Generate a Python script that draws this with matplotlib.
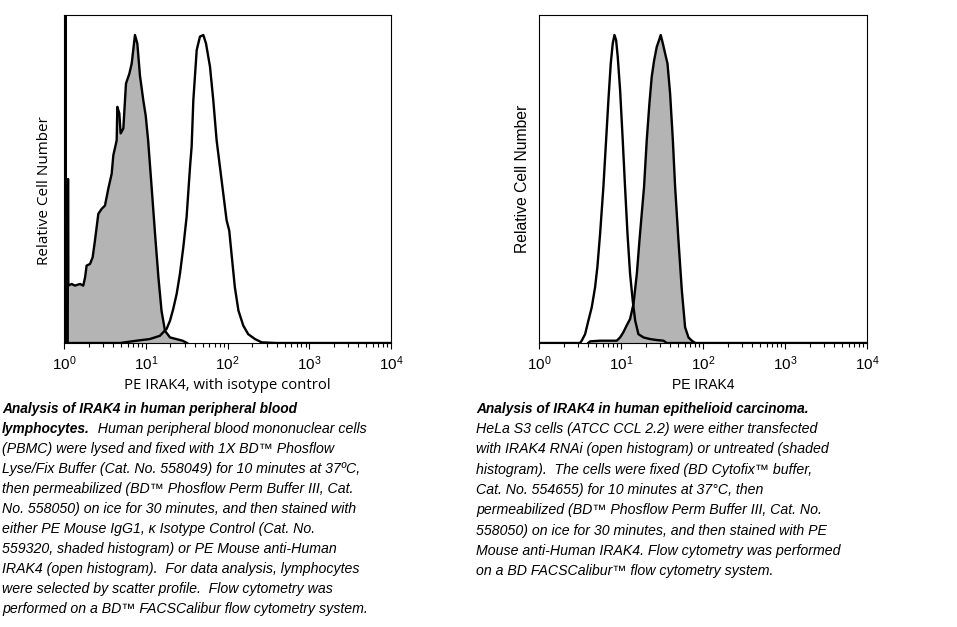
import matplotlib
matplotlib.use("Agg")
import matplotlib.pyplot as plt
import numpy as np

plt.rcParams['font.family'] = ['Liberation Sans', 'DejaVu Sans']
plt.rcParams['mathtext.fontset'] = 'custom'
plt.rcParams['mathtext.rm'] = 'Liberation Sans'
plt.rcParams['mathtext.it'] = 'Liberation Sans:italic'

# Left panel: PBMC, isotype control (shaded) vs anti-IRAK4 (open)
iso_x = [1.11, 1.12, 1.13, 1.24, 1.36, 1.57, 1.72, 1.81, 1.89, 2.08, 2.24, 2.39, 2.63,
         2.89, 3.17, 3.48, 3.83, 4.01, 4.41, 4.49, 4.75, 4.93, 5.32, 5.73, 6.30, 6.73,
         7.38, 7.89, 8.49, 9.33, 9.98, 10.7, 11.8, 13.0, 14.3, 15.6, 17.2, 19.8, 28.2, 32.0]
iso_y = [0.0, 0.50, 0.175, 0.180, 0.175, 0.180, 0.175, 0.200, 0.236, 0.241, 0.261, 0.312, 0.394,
         0.409, 0.419, 0.470, 0.516, 0.572, 0.618, 0.720, 0.700, 0.639, 0.654, 0.791, 0.821, 0.852,
         0.939, 0.913, 0.816, 0.740, 0.694, 0.617, 0.475, 0.332, 0.199, 0.098, 0.037, 0.017, 0.007, 0.0]

irak_x = [1.04, 1.045, 1.05, 4.84, 7.74, 11.2, 14.9, 16.4, 18.0, 19.8, 21.7, 23.9, 26.2, 28.8,
          31.6, 34.8, 36.4, 38.2, 42.0, 46.0, 50.6, 54.6, 61.1, 67.0, 73.6, 84.7, 97.5, 105,
          112, 123, 136, 156, 179, 217, 262, 398, 10000]
irak_y = [0.0, 1.5, 0.0, 0.0, 0.007, 0.012, 0.022, 0.033, 0.043, 0.068, 0.104, 0.150, 0.211, 0.292,
          0.384, 0.537, 0.598, 0.740, 0.893, 0.934, 0.939, 0.913, 0.842, 0.740, 0.618, 0.496, 0.374, 0.343,
          0.272, 0.170, 0.099, 0.053, 0.027, 0.012, 0.002, 0.0, 0.0]

# Right panel: HeLa S3, untreated (shaded) vs IRAK4 RNAi (open)
untr_x = [3.98, 4.20, 5.56, 8.87, 9.75, 10.7, 11.7, 12.9, 14.2, 15.6, 16.8, 17.9, 19.1, 20.6,
          22.2, 23.7, 25.4, 27.3, 29.2, 30.5, 32.4, 34.5, 36.9, 39.7, 42.9, 45.7, 50.2, 55.2,
          60.5, 66.5, 73.1, 80.2]
untr_y = [0.0, 0.005, 0.007, 0.007, 0.017, 0.033, 0.053, 0.073, 0.119, 0.211, 0.313, 0.394, 0.476, 0.618,
          0.730, 0.812, 0.863, 0.903, 0.924, 0.939, 0.913, 0.883, 0.852, 0.761, 0.618, 0.476, 0.313, 0.160,
          0.048, 0.017, 0.007, 0.0]

rnai_x = [1.0, 3.16, 3.32, 3.65, 4.00, 4.40, 4.83, 5.15, 5.56, 6.10, 6.58, 7.02, 7.50, 7.93, 8.32,
          8.71, 9.12, 9.75, 10.5, 11.2, 12.0, 12.9, 13.9, 14.9, 16.3, 18.8, 22.6, 27.3, 33.0, 36.1, 10000]
rnai_y = [0.0, 0.0, 0.007, 0.027, 0.068, 0.109, 0.170, 0.231, 0.333, 0.476, 0.618, 0.740, 0.852, 0.913, 0.939,
          0.924, 0.873, 0.771, 0.618, 0.476, 0.333, 0.211, 0.129, 0.068, 0.027, 0.017, 0.012, 0.009, 0.007, 0.0, 0.0]

left_caption = [
    ("Analysis of IRAK4 in human peripheral blood", None),
    ("lymphocytes.", "  Human peripheral blood mononuclear cells"),
    (None, "(PBMC) were lysed and fixed with 1X BD\u2122 Phosflow"),
    (None, "Lyse/Fix Buffer (Cat. No. 558049) for 10 minutes at 37\u00baC,"),
    (None, "then permeabilized (BD\u2122 Phosflow Perm Buffer III, Cat."),
    (None, "No. 558050) on ice for 30 minutes, and then stained with"),
    (None, "either PE Mouse IgG1, \u03ba Isotype Control (Cat. No."),
    (None, "559320, shaded histogram) or PE Mouse anti-Human"),
    (None, "IRAK4 (open histogram).  For data analysis, lymphocytes"),
    (None, "were selected by scatter profile.  Flow cytometry was"),
    (None, "performed on a BD\u2122 FACSCalibur flow cytometry system."),
]
right_caption = [
    ("Analysis of IRAK4 in human epithelioid carcinoma.", None),
    (None, "HeLa S3 cells (ATCC CCL 2.2) were either transfected"),
    (None, "with IRAK4 RNAi (open histogram) or untreated (shaded"),
    (None, "histogram).  The cells were fixed (BD Cytofix\u2122 buffer,"),
    (None, "Cat. No. 554655) for 10 minutes at 37\u00b0C, then"),
    (None, "permeabilized (BD\u2122 Phosflow Perm Buffer III, Cat. No."),
    (None, "558050) on ice for 30 minutes, and then stained with PE"),
    (None, "Mouse anti-Human IRAK4. Flow cytometry was performed"),
    (None, "on a BD FACSCalibur\u2122 flow cytometry system."),
]

W, H = 957, 627
fig = plt.figure(figsize=(W / 100, H / 100), dpi=100)
fig.patch.set_facecolor('white')


def px_axes(x0, y0, x1, y1):
    return fig.add_axes([x0 / W, 1 - y1 / H, (x1 - x0) / W, (y1 - y0) / H])


def histo_panel(ax, shade_x, shade_y, open_x, open_y, xlabel, label_font,
                xsize, ysize, ylab_xy):
    ax.fill_between(shade_x, shade_y, 0, color='#b4b4b4', linewidth=0, zorder=1)
    ax.plot(shade_x, shade_y, color='black', lw=1.7, zorder=2)
    ax.plot(open_x, open_y, color='black', lw=1.7, zorder=3)
    ax.set_xscale('log')
    ax.set_xlim(1, 1e4)
    ax.set_ylim(0, 1)
    ax.set_yticks([])
    ax.set_xticks([1, 10, 100, 1000, 10000])
    ax.tick_params(axis='x', which='major', direction='out', length=4.5, width=0.8,
                   labelsize=11, pad=4)
    ax.tick_params(axis='x', which='minor', direction='out', length=3, width=0.8)
    for s in ax.spines.values():
        s.set_linewidth(0.8)
    ax.set_xlabel(xlabel, fontsize=xsize, family=label_font, labelpad=3)
    ax.set_ylabel('Relative Cell Number', fontsize=ysize, family=label_font)
    ax.yaxis.set_label_coords(*ylab_xy)


ax1 = px_axes(64, 15, 391, 343)
histo_panel(ax1, iso_x, iso_y, irak_x, irak_y, 'PE IRAK4, with isotype control',
            ['Open Sans', 'DejaVu Sans'], 10.7, 11, (-0.036, 0.466))
ax2 = px_axes(539, 15, 867, 343)
histo_panel(ax2, untr_x, untr_y, rnai_x, rnai_y, 'PE IRAK4',
            ['Liberation Sans', 'DejaVu Sans'], 10, 11.3, (-0.026, 0.5))

# captions
overlay = fig.add_axes([0, 0, 1, 1])
overlay.axis('off')
overlay.set_xlim(0, W)
overlay.set_ylim(H, 0)

BOLD_SIZE = 9.9
ITAL_SIZE = 10.15


def caption(lines, x0, y0, step):
    for i, (bold, rest) in enumerate(lines):
        y = y0 + i * step
        t = None
        if bold:
            t = overlay.text(x0, y, bold, fontsize=BOLD_SIZE, fontstyle='italic',
                             fontweight='bold', va='baseline', ha='left')
        if rest:
            if t is None:
                overlay.text(x0, y, rest, fontsize=ITAL_SIZE, fontstyle='italic',
                             va='baseline', ha='left')
            else:
                overlay.annotate(rest, xy=(1, 0), xycoords=t, fontsize=ITAL_SIZE,
                                 fontstyle='italic', va='bottom', ha='left')


caption(left_caption, 2, 413, 20)
caption(right_caption, 476, 413, 20.25)

fig.savefig('out.png', dpi=100)
